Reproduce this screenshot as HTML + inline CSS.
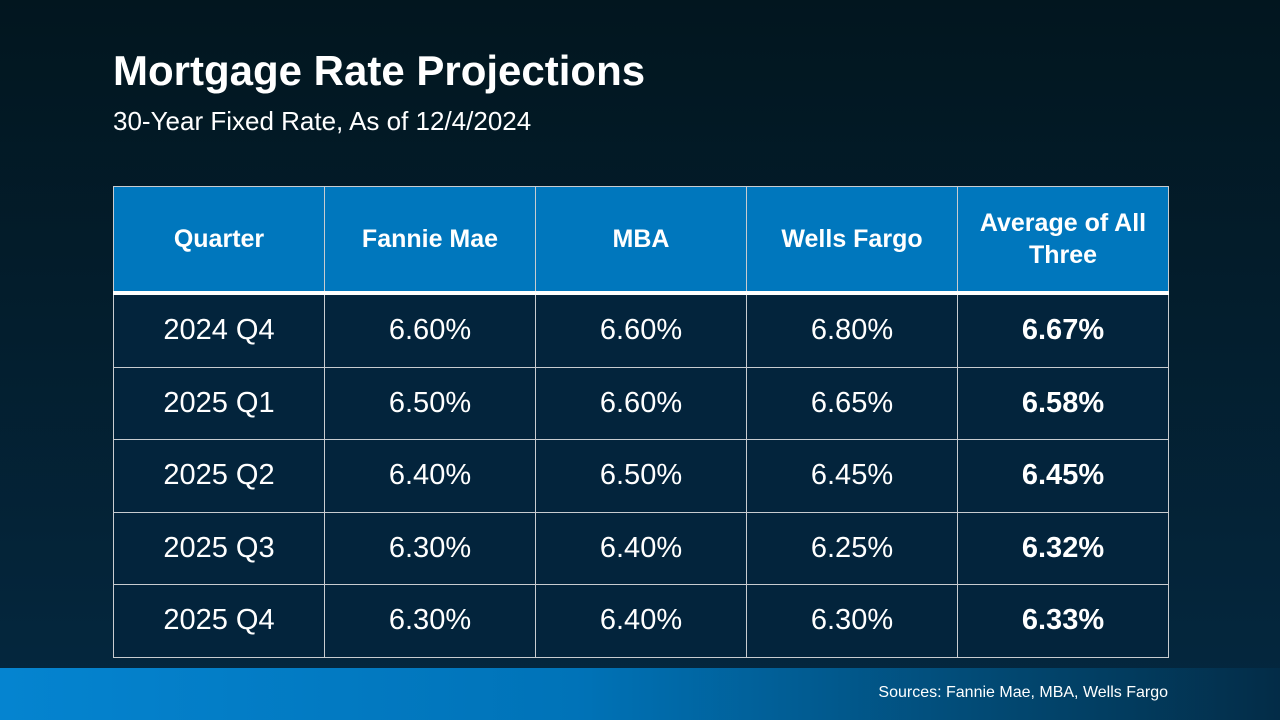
<!DOCTYPE html>
<html><head><style>
html,body{margin:0;padding:0}
body{width:1280px;height:720px;position:relative;overflow:hidden;font-family:"Liberation Sans",Arial,sans-serif;color:#fff;
background:linear-gradient(180deg,#02161f 0%,#031d2c 40%,#042840 100%);}
h1{position:absolute;left:113px;top:47px;margin:0;font-size:42px;font-weight:bold;}
.sub{position:absolute;left:113px;top:106px;font-size:26px;}
table{position:absolute;left:113px;top:186px;border-collapse:collapse;width:1056px;}
td,th{border:1px solid #c8ccd0;width:210px;text-align:center;padding:0;}
th{background:#0077bd;height:104px;font-size:25px;font-weight:bold;line-height:32px;border-bottom:4px solid #fff;}
td{background:#03243c;height:71.5px;font-size:29px;}
td.b{font-weight:bold;}
.foot{position:absolute;left:0;top:668px;width:1280px;height:52px;background:linear-gradient(90deg,#0584d0 0%,#0073b8 45%,#02466e 80%,#032c47 100%);}
.foot span{position:absolute;right:112px;top:16px;font-size:16px;}
</style></head><body>
<h1>Mortgage Rate Projections</h1>
<div class="sub">30-Year Fixed Rate, As of 12/4/2024</div>
<table>
<tr><th>Quarter</th><th>Fannie Mae</th><th>MBA</th><th>Wells Fargo</th><th>Average of All<br>Three</th></tr>
<tr><td>2024 Q4</td><td>6.60%</td><td>6.60%</td><td>6.80%</td><td class="b">6.67%</td></tr>
<tr><td>2025 Q1</td><td>6.50%</td><td>6.60%</td><td>6.65%</td><td class="b">6.58%</td></tr>
<tr><td>2025 Q2</td><td>6.40%</td><td>6.50%</td><td>6.45%</td><td class="b">6.45%</td></tr>
<tr><td>2025 Q3</td><td>6.30%</td><td>6.40%</td><td>6.25%</td><td class="b">6.32%</td></tr>
<tr><td>2025 Q4</td><td>6.30%</td><td>6.40%</td><td>6.30%</td><td class="b">6.33%</td></tr>
</table>
<div class="foot"><span>Sources: Fannie Mae, MBA, Wells Fargo</span></div>
</body></html>
